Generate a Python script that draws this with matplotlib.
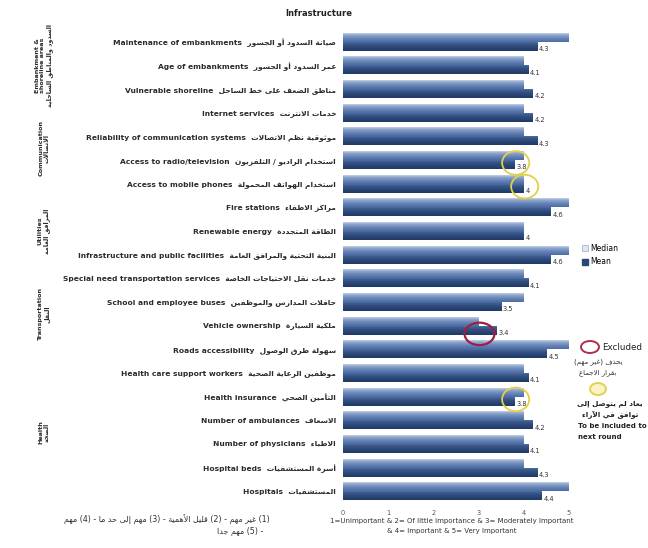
import numpy as np
import matplotlib
matplotlib.use("Agg")
import matplotlib.pyplot as plt
from matplotlib.colors import to_rgb
from matplotlib.patches import Ellipse, Patch

# ------------------------------------------------------------
#  data
# ------------------------------------------------------------
items_en = [
    "Maintenance of embankments", "Age of embankments", "Vulnerable shoreline",
    "Internet services", "Reliability of communication systems",
    "Access to radio/television", "Access to mobile phones",
    "Fire stations", "Renewable energy", "Infrastructure and public facilities",
    "Special need transportation services", "School and employee buses",
    "Vehicle ownership", "Roads accessibility",
    "Health care support workers", "Health insurance", "Number of ambulances",
    "Number of physicians", "Hospital beds", "Hospitals",
]
items_ar = [
    "صيانة السدود أو الجسور", "عمر السدود أو الجسور", "مناطق الضعف على خط الساحل",
    "خدمات الانترنت", "موثوقية نظم الاتصالات",
    "استخدام الراديو / التلفزيون", "استخدام الهواتف المحمولة",
    "مراكز الاطفاء", "الطاقة المتجددة", "البنية التحتية والمرافق العامة",
    "خدمات نقل الاحتياجات الخاصة", "حافلات المدارس والموظفين",
    "ملكية السيارة", "سهولة طرق الوصول",
    "موظفين الرعاية الصحية", "التأمين الصحي", "الاسعاف",
    "الاطباء", "أسرة المستشفيات", "المستشفيات",
]
median_vals = [5, 4, 4, 4, 4, 4, 4, 5, 4, 5, 4, 4, 3, 5, 4, 4, 4, 4, 4, 5]
mean_vals = [4.3, 4.1, 4.2, 4.2, 4.3, 3.8, 4, 4.6, 4, 4.6,
             4.1, 3.5, 3.4, 4.5, 4.1, 3.8, 4.2, 4.1, 4.3, 4.4]

# groups: (first row, last row, english, arabic)
groups = [
    (0, 2, "Embankment &\nshoreline areas", "السدود والمناطق الساحلية"),
    (3, 6, "Communication", "الاتصالات"),
    (7, 9, "Utilities", "المرافق العامة"),
    (10, 13, "Transportation", "النقل"),
    (14, 19, "Health", "الصحة"),
]
excluded_rows = [12]
next_round_rows = [5, 6, 15]
x_ticks = [0, 1, 2, 3, 4, 5]

# ------------------------------------------------------------
#  minimal Arabic shaping (presentation forms, visual order)
# ------------------------------------------------------------
AR_FORMS = {
    'ء': (0xFE80, 1), 'آ': (0xFE81, 2), 'أ': (0xFE83, 2), 'ؤ': (0xFE85, 2),
    'إ': (0xFE87, 2), 'ئ': (0xFE89, 4), 'ا': (0xFE8D, 2), 'ب': (0xFE8F, 4),
    'ة': (0xFE93, 2), 'ت': (0xFE95, 4), 'ث': (0xFE99, 4), 'ج': (0xFE9D, 4),
    'ح': (0xFEA1, 4), 'خ': (0xFEA5, 4), 'د': (0xFEA9, 2), 'ذ': (0xFEAB, 2),
    'ر': (0xFEAD, 2), 'ز': (0xFEAF, 2), 'س': (0xFEB1, 4), 'ش': (0xFEB5, 4),
    'ص': (0xFEB9, 4), 'ض': (0xFEBD, 4), 'ط': (0xFEC1, 4), 'ظ': (0xFEC5, 4),
    'ع': (0xFEC9, 4), 'غ': (0xFECD, 4), 'ف': (0xFED1, 4), 'ق': (0xFED5, 4),
    'ك': (0xFED9, 4), 'ل': (0xFEDD, 4), 'م': (0xFEE1, 4), 'ن': (0xFEE5, 4),
    'ه': (0xFEE9, 4), 'و': (0xFEED, 2), 'ى': (0xFEEF, 2), 'ي': (0xFEF1, 4),
}
LAM_ALEF = {'ا': 0xFEFB, 'أ': 0xFEF7, 'إ': 0xFEF9, 'آ': 0xFEF5}
MIRROR = {'(': ')', ')': '('}


def ar(text):
    out, i, n = [], 0, len(text)
    while i < n:
        ch = text[i]
        if ch not in AR_FORMS:
            out.append(MIRROR.get(ch, ch))
            i += 1
            continue
        prev = text[i - 1] if i > 0 else ''
        joins_prev = prev in AR_FORMS and AR_FORMS[prev][1] == 4
        if ch == 'ل' and i + 1 < n and text[i + 1] in LAM_ALEF:
            out.append(chr(LAM_ALEF[text[i + 1]] + int(joins_prev)))
            i += 2
            continue
        base, nforms = AR_FORMS[ch]
        nxt = text[i + 1] if i + 1 < n else ''
        joins_next = nforms == 4 and nxt in AR_FORMS and AR_FORMS[nxt][1] > 1
        if nforms == 1:
            form = 0
        elif joins_prev and joins_next:
            form = 3
        elif joins_prev:
            form = 1
        elif joins_next:
            form = 2
        else:
            form = 0
        out.append(chr(base + form))
        i += 1
    return ''.join(reversed(out))


def fill_gradient(ax, bars, top, bottom):
    ramp = np.linspace(0, 1, 40) ** 0.5
    c0, c1 = np.array(to_rgb(top)), np.array(to_rgb(bottom))
    img = (c0[None, :] * (1 - ramp[:, None]) + c1[None, :] * ramp[:, None])[:, None, :]
    for b in bars:
        x0, y0, w, hh = b.get_x(), b.get_y(), b.get_width(), b.get_height()
        ax.imshow(img, extent=(x0, x0 + w, y0 + hh, y0), origin='upper',
                  aspect='auto', interpolation='bilinear', zorder=2)
        b.set_facecolor('none')


W, H = 648, 548
fig = plt.figure(figsize=(W / 100, H / 100), dpi=100)
ax = fig.add_axes([343 / W, 1 - 503 / H, 226 / W, 473 / H])

rows = np.arange(len(items_en))
bh = 0.38
med_bars = ax.barh(rows - bh / 2, median_vals, height=bh, edgecolor='none', zorder=2)
mean_bars = ax.barh(rows + bh / 2, mean_vals, height=bh, edgecolor='none', zorder=2)
fill_gradient(ax, med_bars, '#d3def0', '#4a6ca6')
fill_gradient(ax, mean_bars, '#5273ab', '#1f3a66')

for r, v in zip(rows, mean_vals):
    ax.text(v + 0.04, r + bh / 2 + 0.12, f"{v:g}", fontsize=4.8, color='#333333',
            va='center', ha='left', zorder=4)

# highlight rings
for r in next_round_rows:
    ax.add_patch(Ellipse((mean_vals[r] + 0.02, r + 0.12), 0.6, 1.0, fill=False,
                         edgecolor='#e3cf4a', lw=1.3, zorder=5))
for r in excluded_rows:
    ax.add_patch(Ellipse((mean_vals[r] - 0.38, r + 0.35), 0.66, 0.95, fill=False,
                         edgecolor='#9c1f45', lw=1.6, zorder=5))

ax.set_xlim(0, 5)
ax.set_ylim(len(items_en) - 0.5, -0.5)
ax.set_xticks(x_ticks)
ax.set_xticklabels([str(t) for t in x_ticks], fontsize=4.8, color='#555555')
ax.set_yticks(rows)
ax.set_yticklabels([f"{en}  {ar(a)}" for en, a in zip(items_en, items_ar)],
                   fontsize=5.4, fontweight='bold', color='#2a2a2a')
ax.tick_params(length=0, pad=5)
for s in ax.spines.values():
    s.set_visible(False)

# group labels on the left
for first, last, en, a in groups:
    yc = 30 + (first + last + 1) / 2 * 473 / len(items_en)
    fig.text(44 / W, 1 - yc / H, f"{en}\n{ar(a)}", rotation=90, ha='center', va='center',
             fontsize=4.6, fontweight='bold', color='#2a2a2a', linespacing=1.2)

fig.text(319 / W, 1 - 13 / H, "Infrastructure", fontsize=6, fontweight='bold',
         ha='center', va='center', color='#222222')

fig.text(452 / W, 1 - 521 / H,
         "1=Unimportant & 2= Of little importance & 3= Moderately Important",
         fontsize=5, ha='center', va='center', color='#333333')
fig.text(452 / W, 1 - 531 / H, "& 4= Important & 5= Very Important",
         fontsize=5, ha='center', va='center', color='#333333')

fig.text(270 / W, 1 - 520 / H,
         ar("(1) غير مهم - (2) قليل الأهمية - (3) مهم إلى حد ما - (4) مهم"),
         fontsize=5.8, ha='right', va='center', color='#333333')
fig.text(263 / W, 1 - 531 / H, ar("- (5) مهم جدا"),
         fontsize=5.8, ha='right', va='center', color='#333333')

# legend
handles = [Patch(facecolor='#dfe6f1', edgecolor='#9aa9c2', lw=0.5, label='Median'),
           Patch(facecolor='#2c4676', edgecolor='#2c4676', label='Mean')]
fig.legend(handles=handles, loc='center left', bbox_to_anchor=(578 / W, 1 - 255 / H),
           frameon=False, fontsize=5.5, handlelength=0.8, handleheight=0.8,
           handletextpad=0.3, labelspacing=0.6, borderpad=0)

# key for the rings
fig.add_artist(Ellipse((590 / W, 1 - 347 / H), 18 / W, 12 / H, transform=fig.transFigure,
                       fill=False, edgecolor='#b0304a', lw=1.4))
fig.text(602 / W, 1 - 347 / H, "Excluded", fontsize=6.3, ha='left', va='center',
         color='#222222')
fig.text(598 / W, 1 - 362 / H, ar("يحذف (غير مهم)"), fontsize=5, ha='center', va='center',
         color='#333333')
fig.text(598 / W, 1 - 373 / H, ar("بقرار الاجماع"), fontsize=5, ha='center', va='center',
         color='#333333')
fig.add_artist(Ellipse((598 / W, 1 - 389 / H), 16 / W, 12 / H, transform=fig.transFigure,
                       facecolor='#fbf2c2', edgecolor='#e3cf4a', lw=1.3))
fig.text(610 / W, 1 - 404 / H, ar("يعاد لم يتوصل إلى"), fontsize=5.2, fontweight='bold',
         ha='center', va='center', color='#222222')
fig.text(610 / W, 1 - 415 / H, ar("توافق في الآراء"), fontsize=5.2, fontweight='bold',
         ha='center', va='center', color='#222222')
fig.text(578 / W, 1 - 426 / H, "To be included to", fontsize=5, fontweight='bold',
         ha='left', va='center', color='#222222')
fig.text(578 / W, 1 - 437 / H, "next round", fontsize=5, fontweight='bold',
         ha='left', va='center', color='#222222')

fig.savefig("out.png", dpi=100, facecolor='white')
